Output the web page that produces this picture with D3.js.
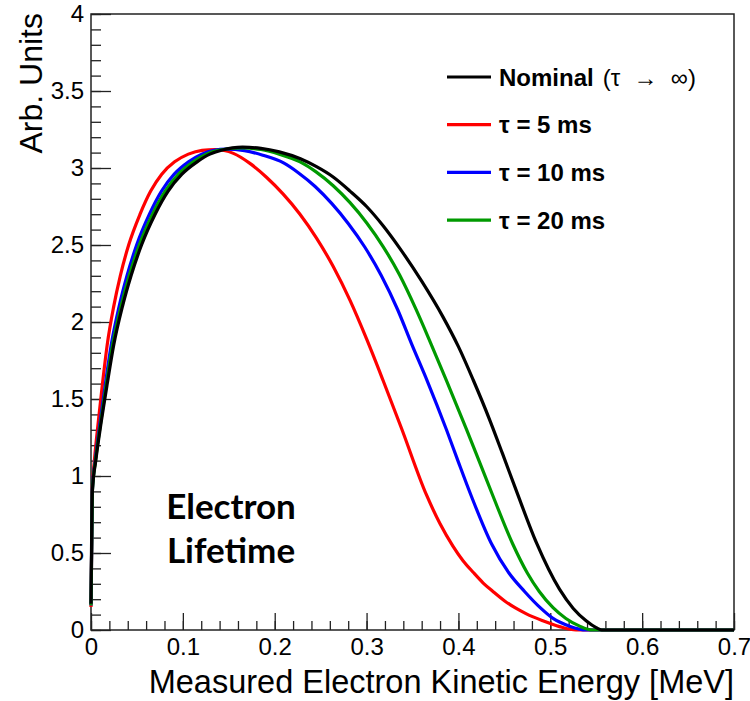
<!DOCTYPE html>
<html lang="en">
<head>
    <meta charset="UTF-8">
    <title>Electron Lifetime</title>
    <script src="https://d3js.org/d3.v7.min.js"></script>
    <style>
        body { margin: 0; background: #fff; }
        svg text { font-family: "Liberation Sans", Arial, sans-serif; fill: #000; }
        .tick line { stroke: #222; stroke-width: 1.3; }
        .tick text { font-size: 24px; }
    </style>
</head>
<body>
    <div id="chart"></div>
    <script>
        // spectra (MeV, arb. units)
        const energyNominal = [0, 0.0015, 0.0052, 0.0111, 0.0177, 0.0247, 0.0342, 0.0436, 0.055, 0.0698, 0.084, 0.099, 0.1155, 0.1295, 0.142, 0.165, 0.185, 0.205, 0.228, 0.245, 0.264, 0.282, 0.300, 0.318, 0.336, 0.36, 0.383, 0.40, 0.416, 0.434, 0.448, 0.463, 0.485, 0.510, 0.525, 0.539, 0.55, 0.556, 0.7];
        const countsNominal = [0.17, 0.9, 1.1, 1.35, 1.6, 1.85, 2.1, 2.3, 2.5, 2.7, 2.85, 2.96, 3.04, 3.09, 3.115, 3.135, 3.128, 3.105, 3.06, 3.01, 2.94, 2.85, 2.75, 2.625, 2.48, 2.265, 2.035, 1.84, 1.625, 1.365, 1.145, 0.905, 0.565, 0.265, 0.14, 0.06, 0.015, 0, 0];

        const energy5ms = [0, 0.0015, 0.0037, 0.0079, 0.0125, 0.0176, 0.0247, 0.0319, 0.041, 0.0534, 0.065, 0.077, 0.091, 0.106, 0.121, 0.135, 0.155, 0.173, 0.191, 0.209, 0.2275, 0.2455, 0.2637, 0.282, 0.300, 0.318, 0.338, 0.365, 0.38, 0.394, 0.405, 0.416, 0.427, 0.4376, 0.45, 0.462, 0.474, 0.492, 0.510, 0.528, 0.7];
        const counts5ms = [0.15, 0.92, 1.1, 1.35, 1.6, 1.85, 2.1, 2.3, 2.5, 2.7, 2.85, 2.96, 3.04, 3.09, 3.115, 3.12, 3.095, 3.03, 2.94, 2.832, 2.70, 2.545, 2.36, 2.14, 1.89, 1.62, 1.31, 0.88, 0.69, 0.545, 0.45, 0.375, 0.305, 0.25, 0.19, 0.143, 0.105, 0.06, 0.022, 0, 0];

        const energy10ms = [0, 0.0015, 0.0046, 0.0099, 0.0157, 0.022, 0.0306, 0.0392, 0.0497, 0.0636, 0.0768, 0.0906, 0.1062, 0.1206, 0.134, 0.147, 0.167, 0.187, 0.2096, 0.226, 0.244, 0.262, 0.280, 0.298, 0.316, 0.334, 0.349, 0.366, 0.387, 0.4, 0.414, 0.436, 0.455, 0.472, 0.489, 0.503, 0.521, 0.539, 0.7];
        const counts10ms = [0.16, 0.91, 1.1, 1.35, 1.6, 1.85, 2.1, 2.3, 2.5, 2.7, 2.85, 2.96, 3.04, 3.09, 3.115, 3.122, 3.113, 3.083, 3.033, 2.968, 2.88, 2.77, 2.64, 2.487, 2.302, 2.078, 1.858, 1.618, 1.30, 1.09, 0.87, 0.56, 0.37, 0.25, 0.145, 0.075, 0.025, 0, 0];

        const energy20ms = [0, 0.0015, 0.0049, 0.0106, 0.0168, 0.0235, 0.0326, 0.0416, 0.0526, 0.067, 0.0808, 0.0953, 0.1113, 0.1255, 0.1384, 0.165, 0.185, 0.205, 0.2276, 0.245, 0.2637, 0.282, 0.300, 0.318, 0.336, 0.354, 0.37, 0.387, 0.409, 0.423, 0.4376, 0.459, 0.475, 0.488, 0.503, 0.517, 0.532, 0.546, 0.7];
        const counts20ms = [0.16, 0.9, 1.1, 1.35, 1.6, 1.85, 2.1, 2.3, 2.5, 2.7, 2.85, 2.96, 3.04, 3.09, 3.115, 3.13, 3.12, 3.09, 3.04, 2.975, 2.885, 2.775, 2.645, 2.49, 2.305, 2.08, 1.86, 1.62, 1.30, 1.09, 0.87, 0.56, 0.37, 0.25, 0.145, 0.075, 0.025, 0, 0];

        const seriesNames = ["\u03c4 = 5 ms", "\u03c4 = 10 ms", "\u03c4 = 20 ms", "Nominal"];
        const seriesColors = ["#ff0000", "#0000ff", "#009a00", "#000000"];
        const legendOrder = ["Nominal", "\u03c4 = 5 ms", "\u03c4 = 10 ms", "\u03c4 = 20 ms"];

        const xTicks = [0, 0.1, 0.2, 0.3, 0.4, 0.5, 0.6, 0.7];
        const yTicks = [0, 0.5, 1, 1.5, 2, 2.5, 3, 3.5, 4];

        const width = 750, height = 701;
        const margin = {top: 14, right: 16, bottom: 71, left: 91};

        const svg = d3.select("#chart").append("svg")
            .attr("width", width)
            .attr("height", height);

        const x = d3.scaleLinear().domain([0, 0.7]).range([margin.left, width - margin.right]);
        const y = d3.scaleLinear().domain([0, 4]).range([height - margin.bottom, margin.top]);

        // minor ticks
        svg.append("g")
            .attr("transform", `translate(0,${y(0)})`)
            .call(d3.axisBottom(x).tickValues(d3.range(0, 0.7001, 0.02)).tickSize(-9).tickFormat(""))
            .call(g => g.select(".domain").remove());
        svg.append("g")
            .attr("transform", `translate(${x(0)},0)`)
            .call(d3.axisLeft(y).tickValues(d3.range(0, 4.001, 0.1)).tickSize(-10).tickFormat(""))
            .call(g => g.select(".domain").remove());

        // major ticks + labels
        svg.append("g")
            .attr("transform", `translate(0,${y(0)})`)
            .call(d3.axisBottom(x).tickValues(xTicks).tickSize(-17).tickPadding(8).tickFormat(d3.format("")))
            .call(g => g.select(".domain").remove());
        svg.append("g")
            .attr("transform", `translate(${x(0)},0)`)
            .call(d3.axisLeft(y).tickValues(yTicks).tickSize(-20).tickPadding(7).tickFormat(d3.format("")))
            .call(g => g.select(".domain").remove());

        svg.selectAll(".tick text").attr("fill", "#000");

        // frame
        svg.append("rect")
            .attr("x", x(0)).attr("y", y(4))
            .attr("width", x(0.7) - x(0)).attr("height", y(0) - y(4))
            .attr("fill", "none").attr("stroke", "#222").attr("stroke-width", 1.5);

        const line = d3.line()
            .x(d => x(d[0]))
            .y(d => y(d[1]))
            .curve(d3.curveMonotoneX);

        const series = [
            d3.zip(energy5ms, counts5ms),
            d3.zip(energy10ms, counts10ms),
            d3.zip(energy20ms, counts20ms),
            d3.zip(energyNominal, countsNominal)
        ];

        svg.append("g")
            .selectAll("path")
            .data(series)
            .join("path")
            .attr("d", line)
            .attr("fill", "none")
            .attr("stroke", (d, i) => seriesColors[i])
            .attr("stroke-width", 3.2)
            .attr("stroke-linejoin", "round");

        // legend
        const legend = svg.append("g");
        legendOrder.forEach((name, i) => {
            const ly = 77 + i * 47.7;
            const col = seriesColors[seriesNames.indexOf(name)];
            legend.append("line")
                .attr("x1", 447).attr("x2", 491)
                .attr("y1", ly).attr("y2", ly)
                .attr("stroke", col).attr("stroke-width", 3.2);
            const t = legend.append("text")
                .attr("x", 499).attr("y", ly)
                .attr("dy", "0.36em")
                .style("font-size", "24px")
                .style("font-weight", "bold");
            if (name === "Nominal") {
                t.append("tspan").text("Nominal");
                t.append("tspan").attr("dx", 9).style("font-weight", "normal").text("(\u03c4 \u00a0\u2192\u00a0 \u221e)");
            } else {
                t.text(name);
            }
        });

        // annotation
        const note = svg.append("g")
            .style("font-weight", "bold")
            .style("font-size", "35px");
        note.append("text").attr("x", 231).attr("y", 519).attr("text-anchor", "middle")
            .style("font-family", "Lato, sans-serif").text("Electron");
        note.append("text").attr("x", 231).attr("y", 563).attr("text-anchor", "middle")
            .style("font-family", "Lato, sans-serif").text("Lifetime");

        // axis titles
        svg.append("text")
            .attr("x", x(0.7)).attr("y", 693)
            .attr("text-anchor", "end")
            .style("font-size", "32.5px")
            .text("Measured Electron Kinetic Energy [MeV]");

        svg.append("text")
            .attr("transform", `translate(42,${margin.top - 1}) rotate(-90)`)
            .attr("text-anchor", "end")
            .style("font-size", "32px")
            .text("Arb. Units");
    </script>
</body>
</html>
